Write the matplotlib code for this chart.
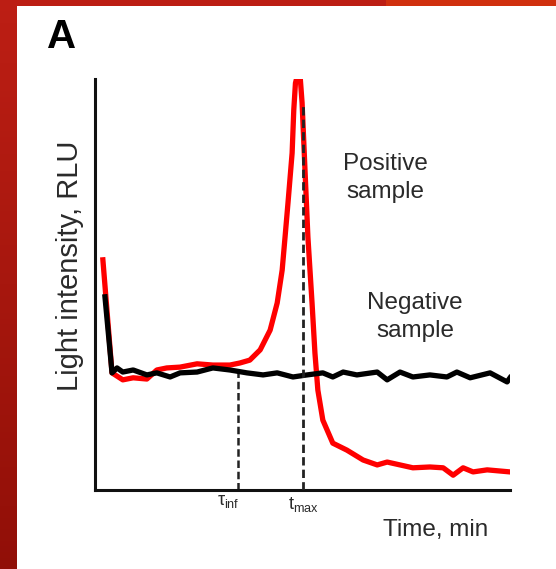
import numpy as np
import matplotlib.pyplot as plt
from matplotlib.patches import Rectangle

plt.rcParams['font.family'] = ['Liberation Sans', 'DejaVu Sans']
plt.rcParams['mathtext.fontset'] = 'custom'
plt.rcParams['mathtext.rm'] = 'Liberation Sans'
plt.rcParams['mathtext.it'] = 'Liberation Sans'

# positive sample (arbitrary units: time 0-100, intensity 0-100)
pos_t = [1.9, 4.1, 6.7, 9.2, 12.5, 14.9, 17.3, 20.5, 24.6, 28.4, 32.5, 34.9,
         37.3, 39.8, 42.2, 43.9, 45.1, 45.8, 46.5, 47.5, 47.9, 48.3, 48.8,
         49.4, 49.9, 50.6, 51.3, 52.3, 53.0, 53.7, 54.9, 57.3, 60.7, 64.6,
         68.0, 70.4, 73.5, 76.6, 80.7, 83.9, 86.3, 88.7, 91.1, 94.5, 100.0]
pos_i = [56.0, 28.5, 26.8, 27.3, 27.0, 29.2, 29.7, 29.9, 30.7, 30.4, 30.4, 30.9,
         31.6, 34.1, 38.9, 45.5, 53.5, 61.6, 69.8, 82.0, 92.5, 99.0, 101,
         101, 94.2, 77.9, 61.6, 45.5, 33.3, 24.3, 17.0, 11.4, 9.7, 7.3,
         6.1, 6.8, 6.1, 5.4, 5.6, 5.4, 3.6, 5.4, 4.4, 4.9, 4.4]

# negative sample
neg_t = [2.4, 4.1, 5.3, 6.7, 9.2, 12.5, 14.9, 18.1, 20.5, 24.6, 28.4, 32.5,
         36.6, 40.5, 43.9, 47.7, 51.1, 54.9, 57.3, 59.8, 63.1, 68.0, 70.4,
         73.5, 76.6, 80.7, 84.8, 87.2, 90.4, 95.2, 99.3, 100.0]
neg_i = [47.0, 28.5, 29.7, 28.7, 29.2, 28.0, 28.5, 27.5, 28.5, 28.7, 29.7, 29.2,
         28.5, 28.0, 28.5, 27.5, 28.0, 28.5, 27.5, 28.7, 28.0, 28.7, 26.8,
         28.7, 27.5, 28.0, 27.5, 28.7, 27.3, 28.5, 26.3, 27.3]

t_inf, t_inf_top = 34.5, 29.2
t_max, t_max_top = 50.1, 94.2

W, H = 556, 569
fig = plt.figure(figsize=(W / 100, H / 100), dpi=100)

# red frame behind the panel
bg = fig.add_axes([0, 0, 1, 1], zorder=-10)
grad = np.linspace(0, 1, 100)[:, None] * np.ones((1, 10))
top = np.array([0.74, 0.12, 0.08])
bot = np.array([0.57, 0.06, 0.03])
img = top[None, None, :] * (1 - grad[..., None]) + bot[None, None, :] * grad[..., None]
bg.imshow(img, aspect='auto', extent=[0, 1, 0, 1])
bg.add_patch(Rectangle((0.695, 1 - 6 / H), 0.31, 6 / H, color='#d0300e', lw=0))
bg.add_patch(Rectangle((17 / W, 0), 1 - 17 / W, 1 - 6 / H, color='white', lw=0))
bg.set_xlim(0, 1)
bg.set_ylim(0, 1)
bg.axis('off')

ax = fig.add_axes([95 / W, 79 / H, (510 - 95) / W, (490 - 79) / H])
ax.set_facecolor('none')
ax.plot(pos_t, pos_i, color='#ff0000', lw=3.8, solid_joinstyle='round', zorder=3)
ax.plot(neg_t, neg_i, color='black', lw=3.8, solid_joinstyle='round', zorder=4)
ax.plot([t_inf, t_inf], [0, t_inf_top], color='#222222', lw=1.8, ls=(0, (3, 1.5)), zorder=2)
ax.plot([t_max, t_max], [0, t_max_top], color='#222222', lw=2.0, ls=(0, (3, 1.5)), zorder=5)

ax.set_xlim(0, 100)
ax.set_ylim(0, 100)
for s in ['top', 'right']:
    ax.spines[s].set_visible(False)
for s in ['left', 'bottom']:
    ax.spines[s].set_linewidth(2.2)
    ax.spines[s].set_color('#111111')
ax.set_xticks([])
ax.set_yticks([])

tc = '#2a2a2a'
ax.text(70.0, 76.0, 'Positive\nsample', ha='center', va='center',
        fontsize=17.5, color=tc, linespacing=1.35)
ax.text(77.1, 42.0, 'Negative\nsample', ha='center', va='center',
        fontsize=17.5, color=tc, linespacing=1.35)

fig.text(436 / W, 1 - 530 / H, 'Time, min', ha='center', va='center', fontsize=17.5, color=tc)
fig.text(70 / W, 1 - 266 / H, 'Light intensity, RLU', ha='center', va='center',
         rotation=90, fontsize=21, color=tc)
fig.text(228 / W, 1 - 502 / H, r'$\tau_{inf}$', ha='center', va='center', fontsize=13, color=tc)
fig.text(303 / W, 1 - 504 / H, r'$t_{max}$', ha='center', va='center', fontsize=13, color=tc)
fig.text(47 / W, 1 - 37 / H, 'A', ha='left', va='center', fontsize=29,
         fontweight='bold', color='black')

fig.savefig('out.png', dpi=100)
